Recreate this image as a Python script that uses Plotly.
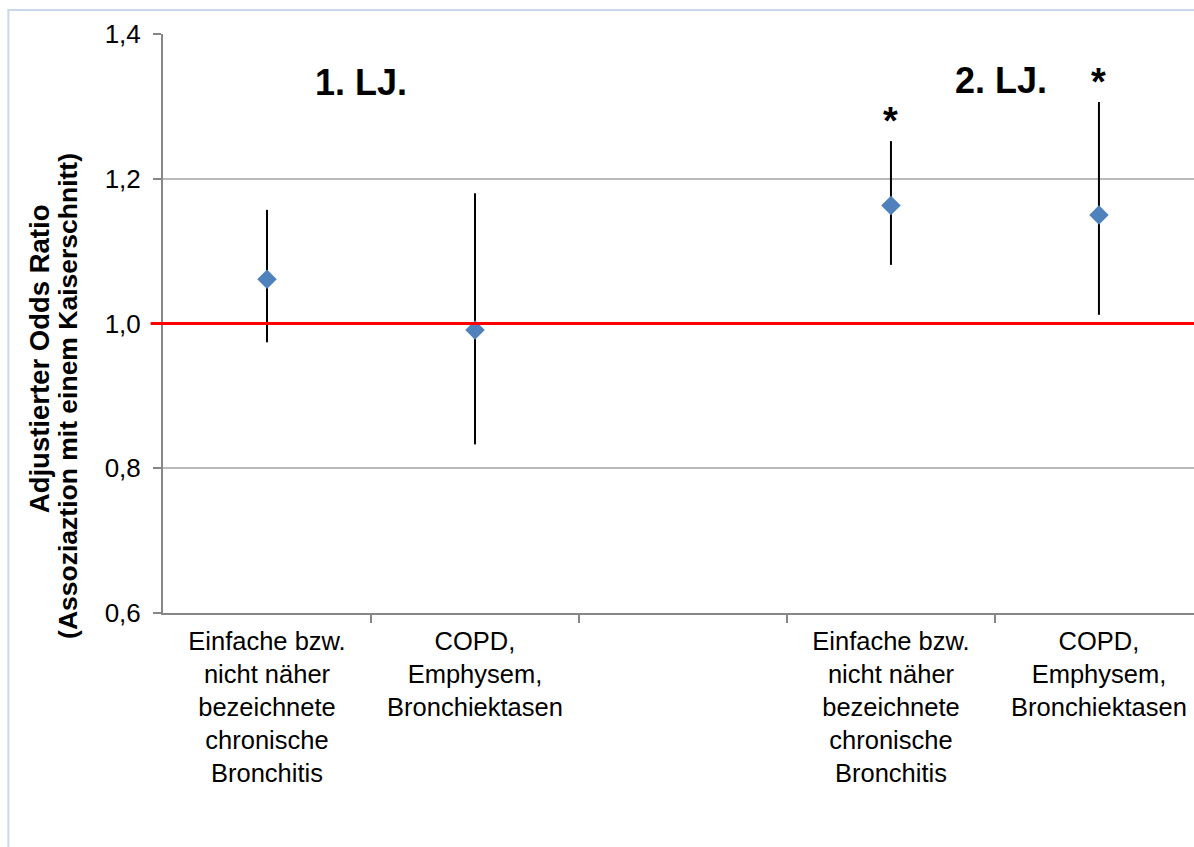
import plotly.graph_objects as go

# Outcome categories per year of life (empty slot separates the two groups)
categories = [
    "Einfache bzw.<br>nicht näher<br>bezeichnete<br>chronische<br>Bronchitis",
    "COPD,<br>Emphysem,<br>Bronchiektasen",
    "",
    "Einfache bzw.<br>nicht näher<br>bezeichnete<br>chronische<br>Bronchitis",
    "COPD,<br>Emphysem,<br>Bronchiektasen",
]
odds_ratio = [1.061, 0.991, None, 1.163, 1.150]
ci_lower = [0.974, 0.833, None, 1.081, 1.012]
ci_upper = [1.157, 1.180, None, 1.252, 1.306]
significant = [False, False, False, True, True]

y_min, y_max = 0.6, 1.4
y_ticks = [0.6, 0.8, 1.0, 1.2, 1.4]
y_tick_labels = ["0,6", "0,8", "1,0", "1,2", "1,4"]
reference_or = 1.0

group_labels = ["1. LJ.", "2. LJ."]
group_label_x = [0.45, 3.53]
group_label_y = [1.333, 1.336]

FONT = "Liberation Sans, Arial, sans-serif"
GRID = "#B9B9B9"
AXIS = "#878787"

idx = [i for i, v in enumerate(odds_ratio) if v is not None]
xs = idx
ys = [odds_ratio[i] for i in idx]
err_plus = [ci_upper[i] - odds_ratio[i] for i in idx]
err_minus = [odds_ratio[i] - ci_lower[i] for i in idx]

fig = go.Figure()

fig.add_trace(go.Scatter(
    x=xs, y=ys, mode="markers",
    marker=dict(symbol="diamond", size=15, color="#4F81BD"),
    error_y=dict(type="data", symmetric=False, array=err_plus,
                 arrayminus=err_minus, color="black", thickness=2, width=0),
    showlegend=False, hoverinfo="skip",
))

# reference line at OR = 1, starting at the tick marks left of the axis
ref_pos = (reference_or - y_min) / (y_max - y_min)
fig.add_shape(type="line", xref="paper", yref="paper", x0=-0.012, x1=1.0,
              y0=ref_pos, y1=ref_pos, line=dict(color="#FF0000", width=3), layer="above")

# outer chart frame
fig.add_shape(type="rect", xref="paper", yref="paper", x0=-0.150, x1=1.05,
              y0=-0.45, y1=1.0415, line=dict(color="#C9D8EE", width=2),
              fillcolor="rgba(0,0,0,0)", layer="below")

annotations = []
for lab, gx, gy in zip(group_labels, group_label_x, group_label_y):
    annotations.append(dict(x=gx, y=gy, xref="x", yref="y", text=f"<b>{lab}</b>",
                            showarrow=False, font=dict(family=FONT, size=36, color="black"),
                            xanchor="center", yanchor="middle"))
for i, sig in enumerate(significant):
    if sig:
        annotations.append(dict(x=i, y=ci_upper[i], xref="x", yref="y", text="<b>*</b>",
                                showarrow=False, font=dict(family=FONT, size=38, color="black"),
                                xanchor="center", yanchor="bottom", yshift=-3))

# two-line axis title
annotations.append(dict(x=-0.1203, y=0.44, xref="paper", yref="paper",
                        text="<b>Adjustierter Odds Ratio</b>", textangle=-90,
                        showarrow=False, font=dict(family=FONT, size=27.5, color="black"),
                        xanchor="center", yanchor="middle"))
annotations.append(dict(x=-0.0921, y=0.375, xref="paper", yref="paper",
                        text="<b>(Assoziaztion mit einem Kaiserschnitt)</b>", textangle=-90,
                        showarrow=False, font=dict(family=FONT, size=26.5, color="black"),
                        xanchor="center", yanchor="middle"))

fig.update_layout(
    width=1194, height=847,
    margin=dict(l=163, r=0, t=34, b=234),
    paper_bgcolor="white", plot_bgcolor="white",
    font=dict(family=FONT, size=26, color="black"),
    annotations=annotations,
    xaxis=dict(
        range=[-0.5, 4.457],
        tickvals=list(range(len(categories))), ticktext=categories,
        ticks="", showgrid=False, zeroline=False,
        showline=True, linecolor=AXIS, linewidth=2,
        tickfont=dict(family=FONT, size=25.5, color="black"),
        ticklabelstandoff=4,
        minor=dict(tickvals=[0.5, 1.5, 2.5, 3.5], ticks="outside", ticklen=8,
                   tickcolor=AXIS, tickwidth=2, showgrid=False),
    ),
    yaxis=dict(
        range=[y_min, y_max], tickvals=y_ticks, ticktext=y_tick_labels,
        ticks="outside", ticklen=8, tickcolor=AXIS, tickwidth=2,
        showgrid=True, gridcolor=GRID, gridwidth=1.5, zeroline=False,
        showline=True, linecolor=AXIS, linewidth=2,
        tickfont=dict(family=FONT, size=26, color="black"),
        ticklabelstandoff=7,
    ),
)

fig.write_html("out.html")
